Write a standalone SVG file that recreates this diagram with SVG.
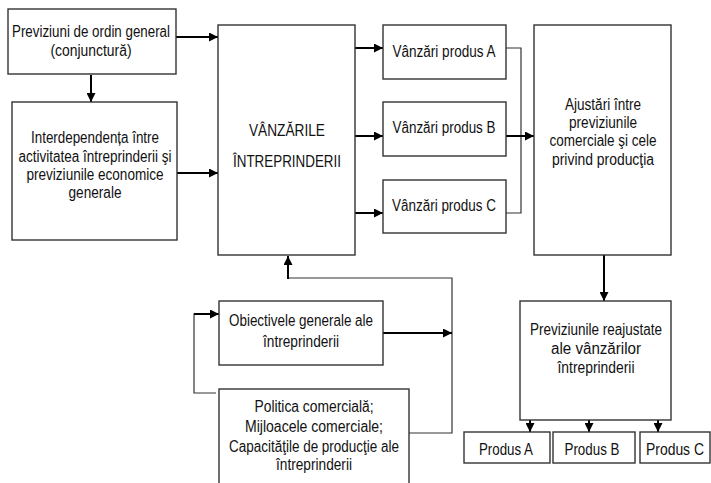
<svg xmlns="http://www.w3.org/2000/svg" width="711" height="483" viewBox="0 0 711 483">
<defs>
<marker id="ah" viewBox="0 0 10 10" refX="10" refY="5" markerUnits="userSpaceOnUse" markerWidth="10" markerHeight="9" orient="auto">
<path d="M0,0 L10,5 L0,10 z" fill="#000"/>
</marker>
<style>
.box{fill:#fff;stroke:#333;stroke-width:1.4}
text{font-family:"Liberation Sans",Arial,sans-serif;font-size:16px;fill:#111;text-anchor:middle}
.arr{stroke:#000;stroke-width:2;fill:none;marker-end:url(#ah)}
.ln{stroke:#333;stroke-width:1.2;fill:none}
</style>
</defs>
<rect width="711" height="483" fill="#fff"/>
<g id="connectors">
<line class="arr" x1="176" y1="37" x2="218" y2="37"/>
<line class="arr" x1="91" y1="75" x2="91" y2="102"/>
<line class="arr" x1="177" y1="173" x2="218" y2="173"/>
<line class="arr" x1="355" y1="48" x2="383" y2="48"/>
<line class="arr" x1="355" y1="136" x2="383" y2="136"/>
<line class="arr" x1="355" y1="213" x2="383" y2="213"/>
<polyline class="ln" points="506,48 521,48 521,213 506,213"/>
<line class="arr" x1="506" y1="136" x2="534" y2="136"/>
<line class="arr" x1="604" y1="255" x2="604" y2="301"/>
<line class="arr" x1="530" y1="420" x2="530" y2="432"/>
<line class="arr" x1="589" y1="420" x2="589" y2="432"/>
<line class="arr" x1="658" y1="420" x2="658" y2="432"/>
<polyline class="ln" points="409,433 452,433 452,278 288,278"/>
<line class="arr" x1="288" y1="279" x2="288" y2="256"/>
<line class="arr" x1="383" y1="333" x2="452" y2="333"/>
<polyline class="ln" points="216,393 194,393 194,314 206,314"/>
<line class="arr" x1="194" y1="314" x2="219" y2="314"/>
</g>
<g id="n-previziuni">
<rect class="box" x="8" y="9" width="168" height="65"/>
<text x="91" y="37" textLength="158" lengthAdjust="spacingAndGlyphs">Previziuni de ordin general</text>
<text x="91" y="56" textLength="81" lengthAdjust="spacingAndGlyphs">(conjunctură)</text>
</g>
<g id="n-interdependenta">
<rect class="box" x="12" y="102" width="165" height="138"/>
<text x="95" y="143" textLength="128" lengthAdjust="spacingAndGlyphs">Interdependența între</text>
<text x="95" y="162" textLength="153" lengthAdjust="spacingAndGlyphs">activitatea întreprinderii şi</text>
<text x="95" y="180" textLength="137" lengthAdjust="spacingAndGlyphs">previziunile economice</text>
<text x="95" y="198" textLength="53" lengthAdjust="spacingAndGlyphs">generale</text>
</g>
<g id="n-vanzarile">
<rect class="box" x="218" y="25" width="137" height="230"/>
<text x="287" y="136" textLength="76" lengthAdjust="spacingAndGlyphs">VÂNZĂRILE</text>
<text x="287" y="167" textLength="108" lengthAdjust="spacingAndGlyphs">ÎNTREPRINDERII</text>
</g>
<g id="n-produsA">
<rect class="box" x="383" y="25" width="123" height="54"/>
<text x="444" y="57" textLength="103" lengthAdjust="spacingAndGlyphs">Vânzări produs A</text>
</g>
<g id="n-produsB">
<rect class="box" x="383" y="102" width="123" height="54"/>
<text x="444" y="133" textLength="103" lengthAdjust="spacingAndGlyphs">Vânzări produs B</text>
</g>
<g id="n-produsC">
<rect class="box" x="383" y="180" width="123" height="53"/>
<text x="444" y="211" textLength="104" lengthAdjust="spacingAndGlyphs">Vânzări produs C</text>
</g>
<g id="n-ajustari">
<rect class="box" x="534" y="25" width="137" height="230"/>
<text x="603" y="110" textLength="76" lengthAdjust="spacingAndGlyphs">Ajustări între</text>
<text x="603" y="128" textLength="68" lengthAdjust="spacingAndGlyphs">previziunile</text>
<text x="603" y="146" textLength="107" lengthAdjust="spacingAndGlyphs">comerciale şi cele</text>
<text x="603" y="165" textLength="102" lengthAdjust="spacingAndGlyphs">privind producţia</text>
</g>
<g id="n-reajustate">
<rect class="box" x="520" y="301" width="151" height="119"/>
<text x="596" y="335" textLength="132" lengthAdjust="spacingAndGlyphs">Previziunile reajustate</text>
<text x="596" y="354" textLength="90" lengthAdjust="spacingAndGlyphs">ale vânzărilor</text>
<text x="596" y="373" textLength="77" lengthAdjust="spacingAndGlyphs">întreprinderii</text>
</g>
<g id="n-pA">
<rect class="box" x="464" y="432" width="86" height="31"/>
<text x="506" y="455" textLength="54" lengthAdjust="spacingAndGlyphs">Produs A</text>
</g>
<g id="n-pB">
<rect class="box" x="553" y="432" width="82" height="31"/>
<text x="592" y="455" textLength="55" lengthAdjust="spacingAndGlyphs">Produs B</text>
</g>
<g id="n-pC">
<rect class="box" x="640" y="432" width="70" height="31"/>
<text x="675" y="455" textLength="58" lengthAdjust="spacingAndGlyphs">Produs C</text>
</g>
<g id="n-obiectivele">
<rect class="box" x="219" y="301" width="164" height="64"/>
<text x="301" y="326" textLength="144" lengthAdjust="spacingAndGlyphs">Obiectivele generale ale</text>
<text x="301" y="347" textLength="76" lengthAdjust="spacingAndGlyphs">întreprinderii</text>
</g>
<g id="n-politica">
<rect class="box" x="219" y="389" width="190" height="120"/>
<text x="314" y="412" textLength="119" lengthAdjust="spacingAndGlyphs">Politica comercială;</text>
<text x="314" y="432" textLength="138" lengthAdjust="spacingAndGlyphs">Mijloacele comerciale;</text>
<text x="314" y="452" textLength="170" lengthAdjust="spacingAndGlyphs">Capacităţile de producţie ale</text>
<text x="314" y="470" textLength="76" lengthAdjust="spacingAndGlyphs">întreprinderii</text>
</g>
</svg>
